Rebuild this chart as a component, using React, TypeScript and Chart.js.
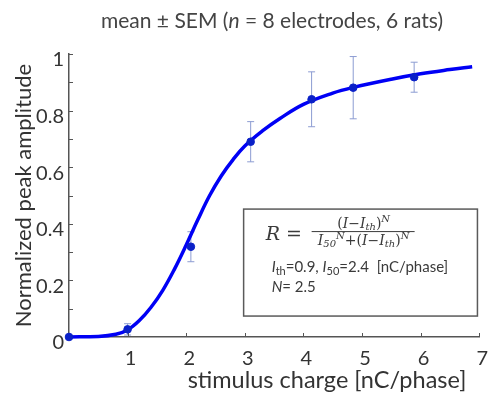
import { useEffect, useRef } from "react";
import { Chart, registerables } from "chart.js";
Chart.register(...registerables);

// Fitted curve
const curveX = [0, 0.5, 0.8, 1.0, 1.2, 1.4, 1.6, 1.8, 2.0, 2.2, 2.4, 2.6, 2.8, 3.0, 3.3, 3.6, 4.0, 4.5, 4.85, 5.5, 6.0, 6.5, 6.88];
const curveY = [0, 0.002, 0.01, 0.025, 0.058, 0.105, 0.165, 0.24, 0.325, 0.415, 0.5, 0.57, 0.627, 0.675, 0.728, 0.772, 0.822, 0.862, 0.882, 0.911, 0.93, 0.945, 0.955];

// Measured means and SEM
const pointX = [0, 1.0, 2.08, 3.1, 4.14, 4.85, 5.89];
const pointY = [0, 0.027, 0.319, 0.69, 0.84, 0.881, 0.918];
const pointErr = [0, 0.02, 0.053, 0.071, 0.097, 0.11, 0.053];

const xTickValues = [0, 1, 2, 3, 4, 5, 6, 7];
const yLabelValues = [0, 0.2, 0.4, 0.6, 0.8, 1];

const SANS = "Lato, 'Open Sans', sans-serif";
const SERIF = "'DejaVu Serif', 'Liberation Serif', serif";

type Run = { t: string; f: string; dy?: number };
function drawRuns(ctx: CanvasRenderingContext2D, runs: Run[], x: number, y: number, align: "left" | "center") {
  let w = 0;
  for (const r of runs) {
    ctx.font = r.f;
    w += ctx.measureText(r.t).width;
  }
  let cx = align === "center" ? x - w / 2 : x;
  ctx.textAlign = "left";
  ctx.textBaseline = "alphabetic";
  for (const r of runs) {
    ctx.font = r.f;
    ctx.fillText(r.t, cx, y + (r.dy || 0));
    cx += ctx.measureText(r.t).width;
  }
  return w;
}

const decorPlugin = {
  id: "decor",
  beforeDatasetsDraw(chart: any) {
    const ctx = chart.ctx as CanvasRenderingContext2D;
    const xs = chart.scales.x;
    const ys = chart.scales.y;
    ctx.save();
    ctx.strokeStyle = "#8c9cd2";
    ctx.lineWidth = 1;
    for (let i = 0; i < pointX.length; i++) {
      if (!pointErr[i]) continue;
      const px = xs.getPixelForValue(pointX[i]);
      const y1 = ys.getPixelForValue(pointY[i] + pointErr[i]);
      const y2 = ys.getPixelForValue(pointY[i] - pointErr[i]);
      ctx.beginPath();
      ctx.moveTo(px, y1);
      ctx.lineTo(px, y2);
      ctx.moveTo(px - 3.5, y1);
      ctx.lineTo(px + 3.5, y1);
      ctx.moveTo(px - 3.5, y2);
      ctx.lineTo(px + 3.5, y2);
      ctx.stroke();
    }
    // inward tick marks
    ctx.strokeStyle = "#555";
    ctx.lineWidth = 1;
    const area = chart.chartArea;
    for (let v = 0; v <= 10; v++) {
      const py = Math.round(ys.getPixelForValue(v / 10)) + 0.5;
      ctx.beginPath();
      ctx.moveTo(area.left, py);
      ctx.lineTo(area.left + 4, py);
      ctx.stroke();
    }
    for (const v of xTickValues) {
      const px = Math.round(xs.getPixelForValue(v)) + 0.5;
      ctx.beginPath();
      ctx.moveTo(px, area.bottom);
      ctx.lineTo(px, area.bottom - 4);
      ctx.stroke();
    }
    ctx.restore();
  },
  afterDatasetsDraw(chart: any) {
    const ctx = chart.ctx as CanvasRenderingContext2D;
    const xs = chart.scales.x;
    const ys = chart.scales.y;
    ctx.save();
    // formula box
    const bx1 = xs.getPixelForValue(2.98);
    const bx2 = xs.getPixelForValue(6.97);
    const by1 = ys.getPixelForValue(0.452);
    const by2 = ys.getPixelForValue(0.074);
    ctx.fillStyle = "#ffffff";
    ctx.fillRect(bx1, by1, bx2 - bx1, by2 - by1);
    ctx.strokeStyle = "#5a5a5a";
    ctx.lineWidth = 1.5;
    ctx.strokeRect(bx1, by1, bx2 - bx1, by2 - by1);

    ctx.fillStyle = "#3a3a3a";
    const L = bx1;
    const T = by1;
    drawRuns(ctx, [
      { t: "R", f: `italic 19px ${SERIF}` },
      { t: " = ", f: `19px ${SERIF}` },
    ], L + 22, T + 31, "left");
    const fs = `14px ${SERIF}`;
    const fi = `italic 14px ${SERIF}`;
    const sub = `italic 10px ${SERIF}`;
    const fracCx = L + 120;
    drawRuns(ctx, [
      { t: "(", f: fs },
      { t: "I", f: fi },
      { t: "\u2212", f: fs },
      { t: "I", f: fi },
      { t: "th", f: sub, dy: 2 },
      { t: ")", f: fs },
      { t: "N", f: sub, dy: -6 },
    ], fracCx, T + 19, "center");
    ctx.strokeStyle = "#3a3a3a";
    ctx.lineWidth = 1;
    ctx.beginPath();
    ctx.moveTo(L + 68, T + 22.5);
    ctx.lineTo(L + 171, T + 22.5);
    ctx.stroke();
    drawRuns(ctx, [
      { t: "I", f: fi },
      { t: "50", f: sub, dy: 2 },
      { t: "N", f: sub, dy: -6 },
      { t: "+(", f: fs },
      { t: "I", f: fi },
      { t: "\u2212", f: fs },
      { t: "I", f: fi },
      { t: "th", f: sub, dy: 2 },
      { t: ")", f: fs },
      { t: "N", f: sub, dy: -6 },
    ], fracCx, T + 36, "center");

    const t1 = `15px ${SANS}`;
    const t1i = `italic 15px ${SANS}`;
    const t1s = `11px ${SANS}`;
    drawRuns(ctx, [
      { t: "I", f: t1i },
      { t: "th", f: t1s, dy: 3 },
      { t: "=0.9, ", f: t1 },
      { t: "I", f: t1i },
      { t: "50", f: t1s, dy: 3 },
      { t: "=2.4  [nC/phase]", f: t1 },
    ], L + 28, T + 63, "left");
    drawRuns(ctx, [
      { t: "N", f: t1i },
      { t: "= 2.5", f: t1 },
    ], L + 28, T + 83, "left");
    ctx.restore();
  },
  afterDraw(chart: any) {
    const ctx = chart.ctx as CanvasRenderingContext2D;
    ctx.save();
    ctx.fillStyle = "#444444";
    drawRuns(ctx, [
      { t: "mean \u00b1 SEM (", f: `21px ${SANS}` },
      { t: "n", f: `italic 21px ${SANS}` },
      { t: " = 8 electrodes, 6 rats)", f: `21px ${SANS}` },
    ], 272, 28, "center");
    ctx.fillStyle = "#333333";
    drawRuns(ctx, [{ t: "stimulus charge [nC/phase]", f: `23.5px ${SANS}` }], 327, 388, "center");
    ctx.restore();
  },
};

export default function App() {
  const ref = useRef<HTMLCanvasElement | null>(null);
  useEffect(() => {
    if (!ref.current) return;
    const chart = new Chart(ref.current, {
      type: "scatter",
      data: {
        datasets: [
          {
            label: "mean",
            data: pointX.map((x, i) => ({ x, y: pointY[i] })),
            backgroundColor: "#0a20c8",
            borderColor: "#0a20c8",
            pointRadius: 3.8,
            pointHoverRadius: 3.8,
            showLine: false,
            clip: false as any,
          },
          {
            label: "fit",
            data: curveX.map((x, i) => ({ x, y: curveY[i] })),
            borderColor: "#0000f5",
            borderWidth: 3.5,
            pointRadius: 0,
            showLine: true,
            tension: 0.4,
            clip: false as any,
          } as any,
        ],
      },
      options: {
        responsive: false,
        animation: false,
        layout: { padding: { left: 0, right: 13, top: 54, bottom: 0 } },
        plugins: { legend: { display: false }, tooltip: { enabled: false }, title: { display: false } },
        scales: {
          x: {
            type: "linear",
            min: 0,
            max: 7,
            afterFit: (s: any) => { s.height = 56; },
            afterBuildTicks: (s: any) => { s.ticks = xTickValues.map((v) => ({ value: v })); },
            grid: { display: false, drawTicks: false },
            border: { display: true, color: "#555", width: 1.5 },
            ticks: {
              color: "#333",
              font: { family: SANS, size: 20 },
              padding: 10,
              labelOffset: 3,
              maxRotation: 0,
              autoSkip: false,
              callback: (v: any) => (Number(v) === 0 ? "" : String(v)),
            },
          },
          y: {
            type: "linear",
            min: 0,
            max: 1,
            afterFit: (s: any) => { s.width = 69; },
            afterBuildTicks: (s: any) => { s.ticks = yLabelValues.map((v) => ({ value: v })); },
            grid: { display: false, drawTicks: false },
            border: { display: true, color: "#555", width: 1.5 },
            title: {
              display: true,
              text: "Normalized peak amplitude",
              color: "#333",
              font: { family: SANS, size: 22 },
              padding: { top: 11, bottom: 0 },
            },
            ticks: {
              color: "#333",
              font: { family: SANS, size: 20 },
              padding: 5,
              labelOffset: 6,
              autoSkip: false,
              callback: (v: any) => String(Math.round(Number(v) * 10) / 10),
            },
          },
        },
      },
      plugins: [decorPlugin],
    });
    return () => chart.destroy();
  }, []);
  return (
    <div style={{ position: "absolute", left: 0, top: 0, width: 495, height: 393, background: "#fff" }}>
      <canvas ref={ref} width={495} height={393} style={{ width: 495, height: 393, display: "block" }} />
    </div>
  );
}
